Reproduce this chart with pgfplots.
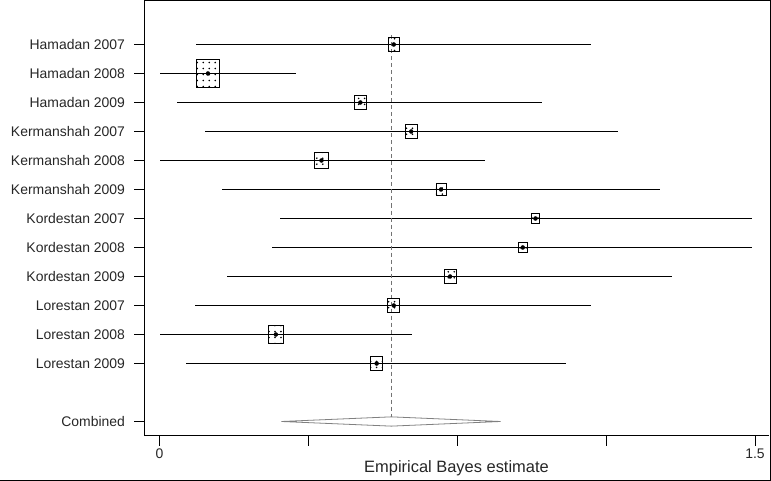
\documentclass[border=0pt]{standalone}
\usepackage{fontspec}
\setmainfont{Liberation Sans}
\usepackage{pgfplots}
\usepackage{pgfplotstable}
\pgfplotsset{compat=1.18}
\usetikzlibrary{patterns}

\pgfdeclarepatternformonly{sparsedots}{\pgfqpoint{-1.5pt}{-1.5pt}}{\pgfqpoint{1.5pt}{1.5pt}}{\pgfqpoint{6pt}{6pt}}{\pgfpathcircle{\pgfqpoint{0pt}{0pt}}{0.9pt}\pgfusepath{fill}}

\pgfdeclareplotmark{dotbox}{%
  \pgfpathrectangle{\pgfpoint{-0.85\pgfplotmarksize}{-\pgfplotmarksize}}{\pgfpoint{1.7\pgfplotmarksize}{2\pgfplotmarksize}}%
  \pgfsetfillpattern{sparsedots}{black}%
  \pgfusepath{fill}%
  \pgfpathrectangle{\pgfpoint{-0.85\pgfplotmarksize}{-\pgfplotmarksize}}{\pgfpoint{1.7\pgfplotmarksize}{2\pgfplotmarksize}}%
  \pgfusepath{stroke}%
}

\pgfplotstableread{
y est lo hi ms
-1 0.590 0.091 1.087 6.7
-2 0.122 0.000 0.343 14
-3 0.506 0.045 0.964 7.2
-4 0.634 0.115 1.155 7
-5 0.408 0.000 0.820 7.8
-6 0.709 0.158 1.261 6
-7 0.947 0.304 1.492 5
-8 0.915 0.284 1.492 5
-9 0.732 0.170 1.291 7
-10 0.590 0.090 1.087 7
-11 0.293 0.000 0.636 9
-12 0.547 0.067 1.024 7
}\studies

\begin{document}
\begin{tikzpicture}
\begin{axis}[
  scale only axis,
  width=624bp, height=435bp,
  xmin=-0.0378, xmax=1.534,
  ymin=-14.483, ymax=0.517,
  axis x line*=bottom, axis y line*=left,
  axis line style={black, line width=0.8pt},
  tick style={black, line width=0.8pt},
  tick align=outside,
  major tick length=10bp,
  xtick={0,0.375,0.75,1.125,1.5},
  xticklabels={0,,,,1.5},
  ytick={-1,-2,-3,-4,-5,-6,-7,-8,-9,-10,-11,-12,-14},
  yticklabels={Hamadan 2007,Hamadan 2008,Hamadan 2009,Kermanshah 2007,Kermanshah 2008,Kermanshah 2009,Kordestan 2007,Kordestan 2008,Kordestan 2009,Lorestan 2007,Lorestan 2008,Lorestan 2009,Combined},
  /pgf/number format/assume math mode=true,
  ticklabel style={font=\fontsize{14}{16}\selectfont, text=black!85},
  yticklabel style={xshift=-6bp},
  xlabel={Empirical Bayes estimate},
  xlabel style={at={(axis description cs:0.5,0)}, anchor=base, yshift=-37bp, font=\fontsize{16.5}{19}\selectfont, text=black!85},
]
% confidence intervals
\addplot[only marks, mark=none, forget plot,
  error bars/.cd, x dir=both, x explicit, error mark=none,
  error bar style={black, line width=0.6pt}]
  table[x=est, y=y, x error plus expr=\thisrow{hi}-\thisrow{est}, x error minus expr=\thisrow{est}-\thisrow{lo}]{\studies};
% dashed combined estimate line
\addplot[black!55, line width=0.8pt, dash pattern=on 4bp off 3bp] coordinates {(0.584,-0.69) (0.584,-13.84)};
% combined diamond
\addplot[black!50, line width=0.8pt] coordinates {(0.307,-14) (0.584,-13.84) (0.859,-14) (0.584,-14.16) (0.307,-14)};
% boxes
\addplot[scatter, only marks, mark=dotbox,
  scatter/use mapped color={draw=black, fill=black},
  mark options={line width=0.8pt, solid},
  visualization depends on={\thisrow{ms} \as \ms},
  scatter/@pre marker code/.append style={/tikz/mark size=\ms}]
  table[x=est, y=y]{\studies};
\end{axis}
\draw[line width=0.8pt] (current axis.north west) -- ++(626bp,0) -- ++(0,-480bp) -- ++(-770bp,0);
\path (current axis.north west) ++(-144.5bp,0.5bp) rectangle ++(771bp,-481bp);
\end{tikzpicture}
\end{document}
